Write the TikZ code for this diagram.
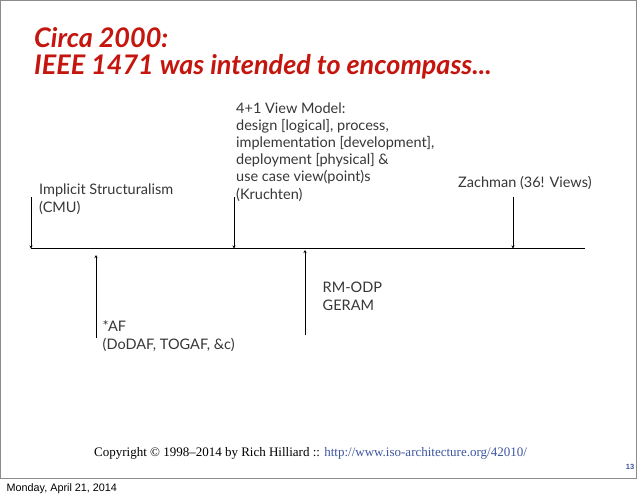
\documentclass[tikz,border=0pt]{standalone}
\usepackage{fontspec}
\setmainfont{Lato}
\newfontfamily\copyfont{Liberation Serif}
\newfontfamily\datefont{Liberation Sans}
\usetikzlibrary{arrows.meta}
\definecolor{titlered}{RGB}{196,22,14}
\definecolor{linkblue}{RGB}{62,86,160}
\definecolor{framegray}{RGB}{140,140,140}
\definecolor{bodygray}{RGB}{55,55,55}

\tikzset{
	ttl/.style={anchor=base west, inner sep=0pt, align=left, text=titlered,
		font=\fontsize{27}{27}\selectfont\bfseries\itshape},
	lbl/.style={anchor=base west, inner sep=0pt, align=left, text=bodygray,
		font=\fontsize{14.5}{17.2}\selectfont},
	ptr/.style={-{Stealth[length=3pt,width=3pt]}, line width=0.6pt},
	axis/.style={line width=1.8pt}
}

\begin{document}
\begin{tikzpicture}[x=1pt, y=-1pt]
		%%%%% START %%%%%
		\useasboundingbox (0,0) rectangle (638,496);
		\fill[white] (0,0) rectangle (638,496);
		\draw[framegray, line width=1pt] (0.5,0.5) rectangle (636.5,478);
		
		\node[ttl] (title) at (34,74) {Circa 2000:\\IEEE 1471 was intended to encompass...};
		
		% timeline
		\coordinate (tstart) at (31,248.5);
		\coordinate (tend) at (585,248.5);
		\draw[axis] (tstart) -- (tend);
		
		% above the line
		\node[lbl] (cmu) at (39,212) {Implicit Structuralism\\(CMU)};
		\node[lbl] (kruchten) at (236,199) {4+1 View Model:\\design [logical], process,\\implementation [development],\\deployment [physical] \&\\use case view(point)s\\(Kruchten)};
		\node[lbl] (zachman) at (458,187) {Zachman (36! Views)};
		
		\coordinate (cmutop) at (31,197);
		\coordinate (krutop) at (234,197);
		\coordinate (zachtop) at (513,197);
		\draw[ptr] (cmutop) -- (cmutop |- tstart);
		\draw[ptr] (krutop) -- (krutop |- tstart);
		\draw[ptr] (zachtop) -- (zachtop |- tstart);
		
		% below the line
		\node[lbl] (af) at (102.5,349) {*AF\\(DoDAF, TOGAF, \&c)};
		\node[lbl] (odp) at (322.5,310) {RM-ODP\\GERAM};
		
		\coordinate (afbot) at (96,338);
		\coordinate (aftip) at (96,255);
		\coordinate (odpbot) at (305,335);
		\coordinate (odptip) at (305,250);
		\draw[ptr] (afbot) -- (aftip);
		\draw[ptr] (odpbot) -- (odptip);
		
		% footer
		\node[anchor=base west, inner sep=0pt, font=\copyfont\fontsize{13}{14}\selectfont] (copy) at (94,456)
			{Copyright \textcopyright{} 1998–2014 by Rich Hilliard :: \textcolor{linkblue}{http://www.iso-architecture.org/42010/}};
		\node[anchor=base east, inner sep=0pt, text=linkblue, font=\datefont\fontsize{7.5}{9}\selectfont\bfseries] (page) at (634.5,469) {13};
		\node[anchor=base west, inner sep=0pt, font=\datefont\fontsize{10.8}{12}\selectfont] (date) at (6.5,491) {Monday, April 21, 2014};
		%%%%% END %%%%%
\end{tikzpicture}
\end{document}
